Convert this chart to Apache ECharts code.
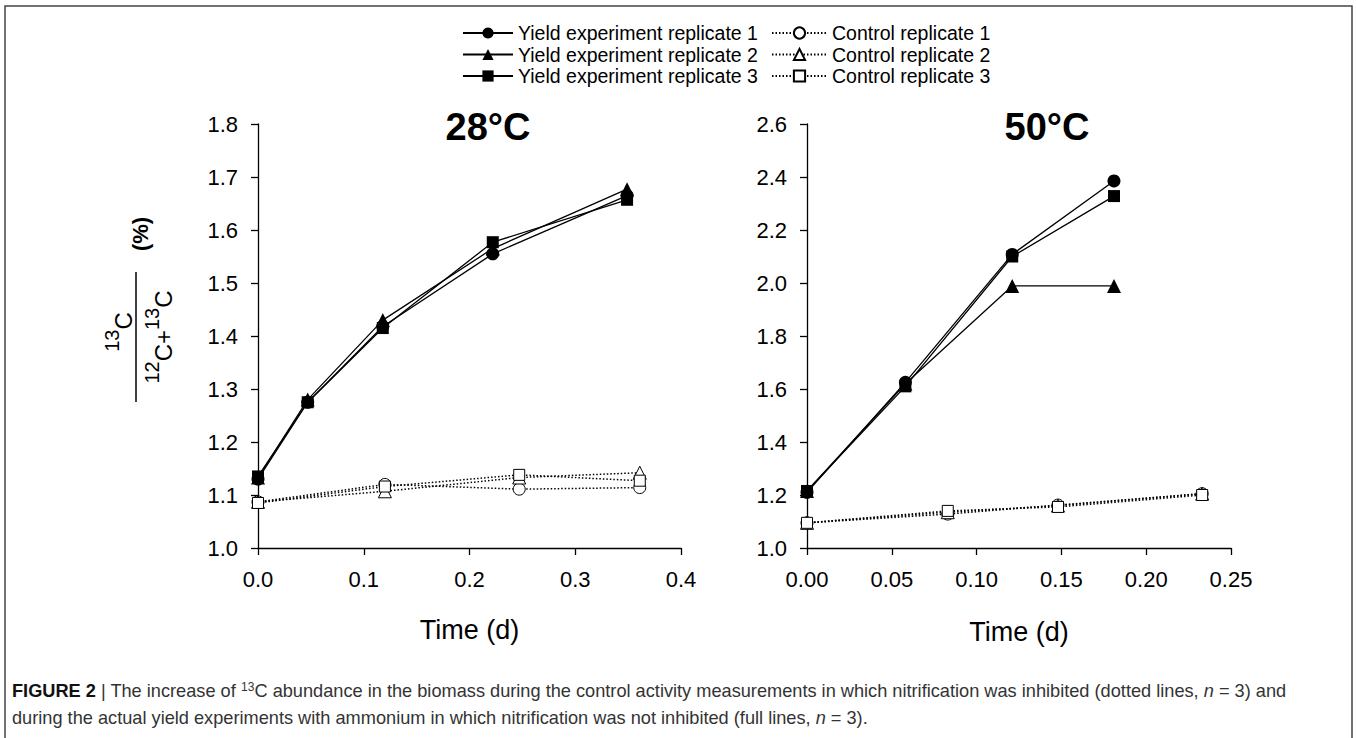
<!DOCTYPE html>
<html>
<head>
<meta charset="utf-8">
<script src="https://cdn.jsdelivr.net/npm/echarts@6/dist/echarts.min.js"></script>
<style>
  html, body { margin: 0; padding: 0; background: #fff; }
  #chart { width: 1357px; height: 738px; }
</style>
</head>
<body>
<div id="chart"></div>
<script>
// ---- data ----
const seriesNames = [
  'Yield experiment replicate 1', 'Yield experiment replicate 2', 'Yield experiment replicate 3',
  'Control replicate 1', 'Control replicate 2', 'Control replicate 3'
];

// 28°C panel
const t28Yield = [0, 0.047, 0.118, 0.222, 0.349];
const y28Rep1 = [1.130, 1.275, 1.418, 1.555, 1.665];
const y28Rep2 = [1.133, 1.280, 1.430, 1.565, 1.677];
const y28Rep3 = [1.135, 1.275, 1.415, 1.577, 1.657];
const t28Ctrl = [0, 0.120, 0.247, 0.361];
const c28Rep1 = [1.087, 1.120, 1.111, 1.114];
const c28Rep2 = [1.087, 1.107, 1.133, 1.142];
const c28Rep3 = [1.085, 1.116, 1.138, 1.127];

// 50°C panel
const t50Yield = [0, 0.058, 0.121, 0.181];
const y50Rep1 = [1.210, 1.625, 2.108, 2.385];
const y50Rep2 = [1.215, 1.620, 1.989, 1.989];
const y50Rep3 = [1.215, 1.610, 2.100, 2.328];
const t50Ctrl = [0, 0.083, 0.148, 0.233];
const c50Rep1 = [1.095, 1.128, 1.162, 1.205];
const c50Rep2 = [1.095, 1.135, 1.160, 1.205];
const c50Rep3 = [1.095, 1.140, 1.155, 1.200];

const panelTitles = ['28°C', '50°C'];

const FONT = 'Liberation Sans, Arial, sans-serif';
const symbols = ['circle', 'triangle', 'rect'];
const symbolSizes = [13, 14, 12];

function pairs(xs, ys) {
  return xs.map((x, i) => [x, ys[i]]);
}

function mkSeries(idx, grid, xs, ys) {
  const isCtrl = idx >= 3;
  const k = idx % 3;
  return {
    name: seriesNames[idx],
    type: 'line',
    xAxisIndex: grid,
    yAxisIndex: grid,
    data: pairs(xs, ys),
    symbol: symbols[k],
    symbolSize: symbolSizes[k] - (isCtrl ? 1 : 0),
    showAllSymbol: true,
    lineStyle: isCtrl
      ? { color: '#000', width: 1.5, type: [1.5, 2] }
      : { color: '#000', width: 1.3 },
    itemStyle: isCtrl
      ? { color: '#fff', borderColor: '#000', borderWidth: 1 }
      : { color: '#000', borderColor: '#000', borderWidth: 0 },
    emphasis: { disabled: true },
    z: isCtrl ? 2 : 3
  };
}

const axisLine = { lineStyle: { color: '#000', width: 1.3 } };
const axisTick = { length: 7, lineStyle: { color: '#000', width: 1.3 } };
const labelStyle = { color: '#000', fontSize: 22, fontFamily: FONT };

const chart = echarts.init(document.getElementById('chart'), null, { renderer: 'svg' });

const legendText = { fontSize: 19.5, fontFamily: FONT, color: '#000', lineHeight: 20 };
const fracRich = {
  s: { fontSize: 20, lineHeight: 20, verticalAlign: 'top', fontFamily: FONT },
  m: { fontSize: 24, lineHeight: 42, verticalAlign: 'middle', fontFamily: FONT }
};
const capRich = {
  b: { fontSize: 18.2, fontWeight: 'bold', fontFamily: FONT, fill: '#111', lineHeight: 20, verticalAlign: 'middle' },
  t: { fontSize: 18.2, fontFamily: FONT, fill: '#333', lineHeight: 20, verticalAlign: 'middle' },
  i: { fontSize: 18.2, fontStyle: 'italic', fontFamily: FONT, fill: '#333', lineHeight: 20, verticalAlign: 'middle' },
  sup: { fontSize: 12, fontFamily: FONT, fill: '#333', lineHeight: 12, verticalAlign: 'top' }
};

chart.setOption({
  backgroundColor: '#fff',
  animation: false,
  grid: [
    { left: 258, top: 124, width: 423, height: 424 },
    { left: 807, top: 124, width: 424, height: 424 }
  ],
  legend: [
    {
      data: seriesNames.slice(0, 3),
      orient: 'vertical', left: 457, top: 18,
      itemWidth: 50, itemHeight: 14, itemGap: 1.5,
      textStyle: legendText,
      selectedMode: false
    },
    {
      data: seriesNames.slice(3),
      orient: 'vertical', left: 766, top: 18,
      itemWidth: 55, itemHeight: 14, itemGap: 1.5,
      textStyle: legendText,
      selectedMode: false
    }
  ],
  xAxis: [
    {
      type: 'value', gridIndex: 0, min: 0, max: 0.4, interval: 0.1,
      name: 'Time (d)', nameLocation: 'middle', nameGap: 68,
      nameTextStyle: { fontSize: 27, fontFamily: FONT, color: '#000' },
      axisLine, axisTick, splitLine: { show: false },
      axisLabel: { ...labelStyle, margin: 20, formatter: v => v.toFixed(1) }
    },
    {
      type: 'value', gridIndex: 1, min: 0, max: 0.25, interval: 0.05,
      name: 'Time (d)', nameLocation: 'middle', nameGap: 70,
      nameTextStyle: { fontSize: 27, fontFamily: FONT, color: '#000' },
      axisLine, axisTick, splitLine: { show: false },
      axisLabel: { ...labelStyle, margin: 20, formatter: v => v.toFixed(2) }
    }
  ],
  yAxis: [
    {
      type: 'value', gridIndex: 0, min: 1.0, max: 1.8, interval: 0.1,
      axisLine: { show: true, ...axisLine }, axisTick: { show: true, ...axisTick },
      splitLine: { show: false },
      axisLabel: { ...labelStyle, margin: 20, formatter: v => v.toFixed(1) }
    },
    {
      type: 'value', gridIndex: 1, min: 1.0, max: 2.6, interval: 0.2,
      axisLine: { show: true, ...axisLine }, axisTick: { show: true, ...axisTick },
      splitLine: { show: false },
      axisLabel: { ...labelStyle, margin: 20, formatter: v => v.toFixed(1) }
    }
  ],
  series: [
    mkSeries(3, 0, t28Ctrl, c28Rep1),
    mkSeries(4, 0, t28Ctrl, c28Rep2),
    mkSeries(5, 0, t28Ctrl, c28Rep3),
    mkSeries(0, 0, t28Yield, y28Rep1),
    mkSeries(1, 0, t28Yield, y28Rep2),
    mkSeries(2, 0, t28Yield, y28Rep3),
    mkSeries(3, 1, t50Ctrl, c50Rep1),
    mkSeries(4, 1, t50Ctrl, c50Rep2),
    mkSeries(5, 1, t50Ctrl, c50Rep3),
    mkSeries(0, 1, t50Yield, y50Rep1),
    mkSeries(1, 1, t50Yield, y50Rep2),
    mkSeries(2, 1, t50Yield, y50Rep3)
  ],
  graphic: [
    // figure frame
    {
      type: 'polyline', silent: true,
      shape: { points: [[5, 740], [5, 6], [1352, 6], [1352, 740]] },
      style: { stroke: '#444', lineWidth: 1.5, fill: null }
    },
    // panel titles
    {
      type: 'text', x: 488, y: 127,
      style: { text: panelTitles[0], fontSize: 38, fontWeight: 'bold', fontFamily: FONT, fill: '#000', align: 'center', verticalAlign: 'middle' }
    },
    {
      type: 'text', x: 1047, y: 127,
      style: { text: panelTitles[1], fontSize: 38, fontWeight: 'bold', fontFamily: FONT, fill: '#000', align: 'center', verticalAlign: 'middle' }
    },
    // y axis label: 13C / (12C+13C) (%), rotated
    {
      type: 'group', x: 136, y: 337, rotation: Math.PI / 2,
      children: [
        { type: 'line', shape: { x1: -65, y1: 0, x2: 65, y2: 0 }, style: { stroke: '#000', lineWidth: 1.5 } },
        {
          type: 'text', x: 5, y: -34,
          style: { text: '{s|13}{m|C}', align: 'center', verticalAlign: 'top', fill: '#000', rich: fracRich }
        },
        {
          type: 'text', x: 0, y: 6,
          style: { text: '{s|12}{m|C+}{s|13}{m|C}', align: 'center', verticalAlign: 'top', fill: '#000', rich: fracRich }
        },
        {
          type: 'text', x: 103, y: 4,
          style: { text: '(%)', fontSize: 22, fontWeight: 'bold', fontFamily: FONT, fill: '#000', align: 'center', verticalAlign: 'middle' }
        }
      ]
    },
    // caption
    {
      type: 'text', x: 12, y: 691,
      style: {
        text: '{b|FIGURE 2}{t| | The increase of }{sup|13}{t|C abundance in the biomass during the control activity measurements in which nitrification was inhibited (dotted lines, }{i|n}{t| = 3) and}',
        verticalAlign: 'middle',
        rich: capRich
      }
    },
    {
      type: 'text', x: 12, y: 718,
      style: {
        text: '{t|during the actual yield experiments with ammonium in which nitrification was not inhibited (full lines, }{i|n}{t| = 3).}',
        verticalAlign: 'middle',
        rich: capRich
      }
    }
  ]
});
</script>
</body>
</html>
